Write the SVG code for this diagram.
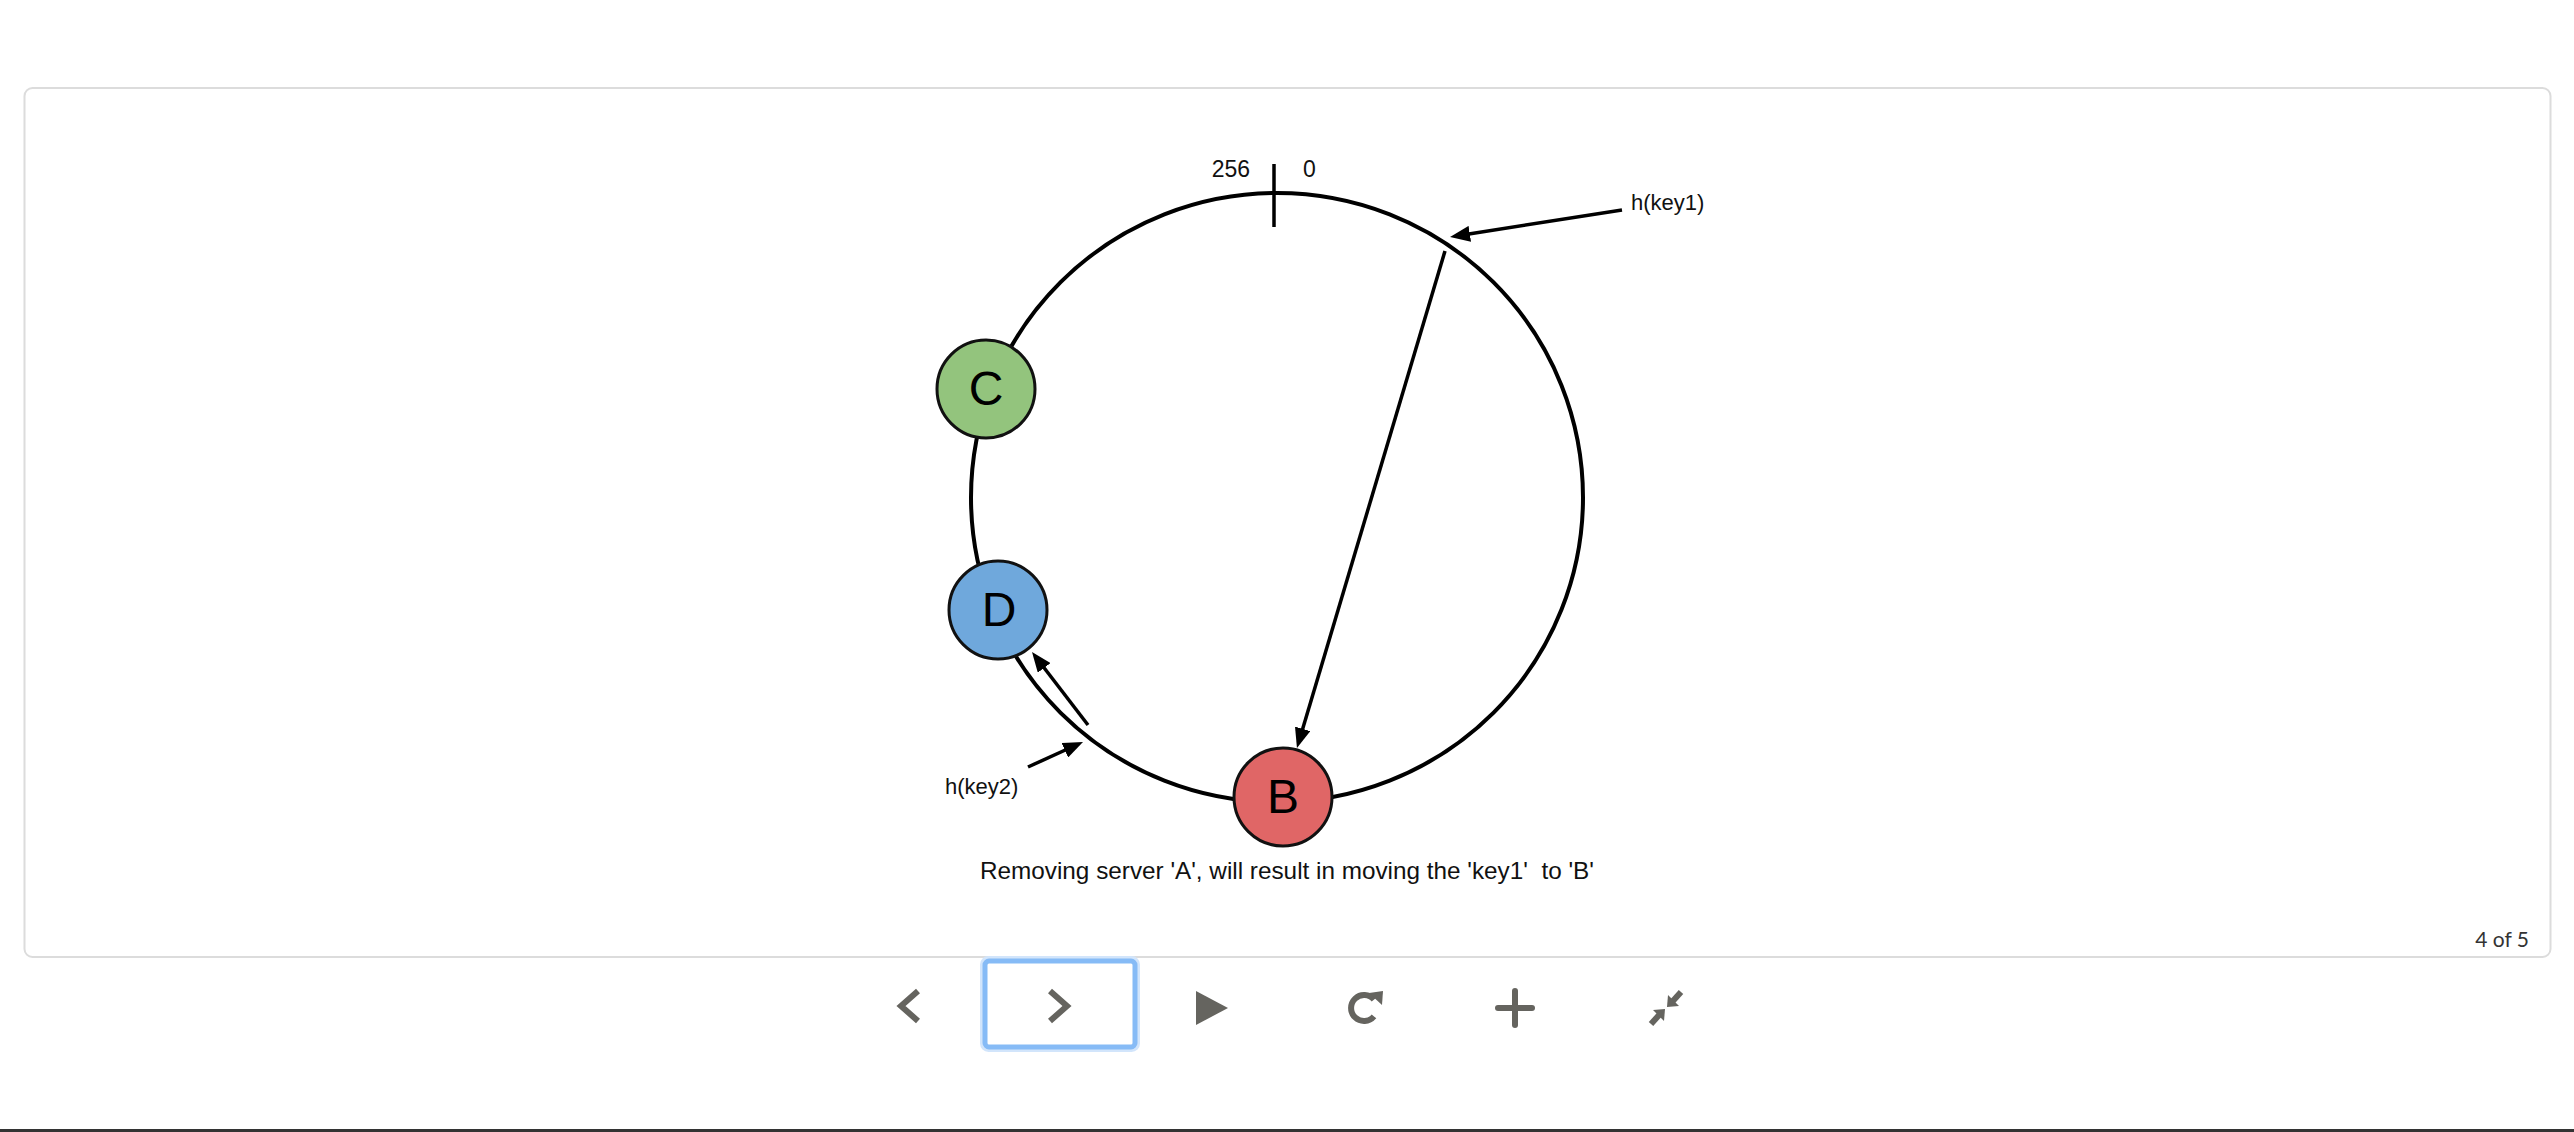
<svg xmlns="http://www.w3.org/2000/svg" width="2574" height="1132" viewBox="0 0 2574 1132">
  <style>
    .ring { fill: none; stroke: #000; stroke-width: 4; }
    .node circle { stroke: #111; stroke-width: 3; }
    .node text { font-family: "Liberation Sans", Arial, sans-serif; font-size: 48px; fill: #000; text-anchor: middle; }
    .lbl { font-family: "Liberation Sans", Arial, sans-serif; font-size: 22px; fill: #111; }
    .edge { fill: none; stroke: #000; stroke-width: 3.5; marker-end: url(#head); }
    .icon { fill: none; stroke: #65645f; stroke-width: 6; }
    .iconfill { fill: #65645f; }
  </style>
  <defs>
    <marker id="head" markerUnits="userSpaceOnUse" markerWidth="20" markerHeight="16" viewBox="0 0 20 16" refX="9" refY="8" orient="auto">
      <path d="M0,0 L20,8 L0,16 z" fill="#000"/>
    </marker>
  </defs>

  <rect x="0" y="0" width="2574" height="1132" fill="#fff"/>

  <!-- slide frame -->
  <rect x="24.5" y="88" width="2526" height="869" rx="8" fill="#fff" stroke="#dcdcdc" stroke-width="2"/>

  <!-- hash ring -->
  <g id="ring">
    <ellipse class="ring" cx="1277" cy="497.5" rx="306" ry="304.5"/>
    <line x1="1274" y1="164" x2="1274" y2="227" stroke="#000" stroke-width="3.5"/>
    <text class="lbl" x="1250" y="177" style="font-size:23px" text-anchor="end">256</text>
    <text class="lbl" x="1303" y="177" style="font-size:23px">0</text>
  </g>

  <!-- arrows -->
  <g id="connectors">
    <line class="edge" x1="1622" y1="210" x2="1460.9" y2="235.2"/>
    <line class="edge" x1="1445" y1="251" x2="1300.1" y2="737.5"/>
    <line class="edge" x1="1028" y1="767" x2="1073" y2="746.5"/>
    <line class="edge" x1="1088" y1="725" x2="1038.7" y2="660.7"/>
  </g>

  <!-- servers on the ring -->
  <g id="node-C" class="node">
    <circle cx="986" cy="389" r="49" fill="#93c47d"/>
    <text x="986" y="405">C</text>
  </g>
  <g id="node-D" class="node">
    <circle cx="998" cy="610" r="49" fill="#6fa8dc"/>
    <text x="999" y="626">D</text>
  </g>
  <g id="node-B" class="node">
    <circle cx="1283" cy="797" r="49" fill="#e06666"/>
    <text x="1283" y="813">B</text>
  </g>

  <!-- key labels -->
  <g id="label-key1"><text class="lbl" x="1631" y="210">h(key1)</text></g>
  <g id="label-key2"><text class="lbl" x="945" y="794">h(key2)</text></g>

  <!-- caption -->
  <g id="caption">
    <text class="lbl" x="980" y="879" style="font-size:24.3px" xml:space="preserve">Removing server 'A', will result in moving the 'key1'  to 'B'</text>
  </g>

  <!-- slide counter -->
  <text x="2529" y="947" font-family="Lato, 'Open Sans', sans-serif" font-size="21" fill="#333" text-anchor="end">4 of 5</text>

  <!-- player controls -->
  <g id="controls">
    <rect x="981.5" y="957.5" width="157" height="93" rx="7" fill="none" stroke="#d2e5fb" stroke-width="3"/>
    <rect x="985" y="961" width="150" height="86" rx="4" fill="none" stroke="#86bbf6" stroke-width="5"/>
    <polyline class="icon" points="918,991 901,1006 918,1021"/>
    <polyline class="icon" points="1050,991 1067,1006 1050,1021"/>
    <polygon class="iconfill" points="1196,991 1228,1008 1196,1025"/>
    <path class="icon" d="M1374,1016.4 A13,13 0 1 1 1374,999.6" stroke-width="5.5"/>
    <polygon class="iconfill" points="1369,993 1383,991 1382,1005"/>
    <line class="icon" x1="1498" y1="1008" x2="1532" y2="1008" stroke-width="5" stroke-linecap="round"/>
    <line class="icon" x1="1515" y1="991" x2="1515" y2="1025" stroke-width="5" stroke-linecap="round"/>
    <line class="icon" x1="1672" y1="1002" x2="1681" y2="992" stroke-width="4"/>
    <polygon class="iconfill" points="1667,1007 1668,995 1679,1006"/>
    <line class="icon" x1="1660" y1="1014" x2="1651" y2="1024" stroke-width="4"/>
    <polygon class="iconfill" points="1665,1009 1664,1021 1653,1010"/>
  </g>

  <!-- bottom bar -->
  <rect x="0" y="1129" width="2574" height="3" fill="#333"/>
</svg>
